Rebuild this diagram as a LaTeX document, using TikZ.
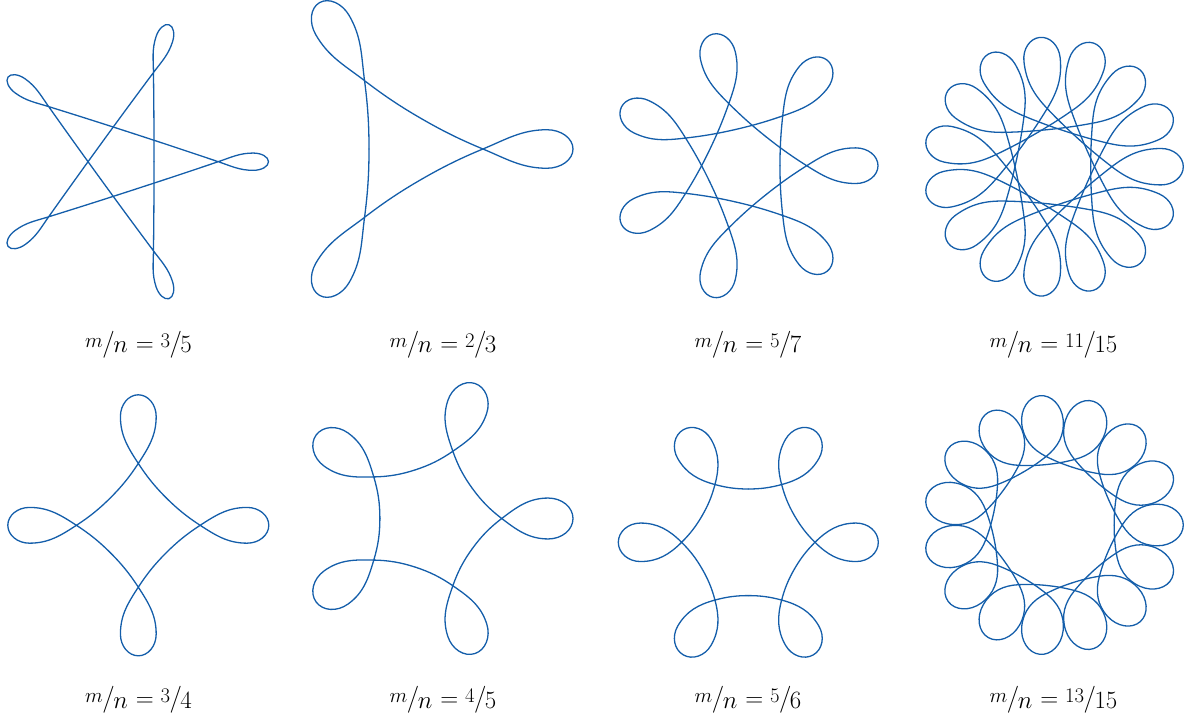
\documentclass[tikz,border=0pt]{standalone}
\usepackage{graphicx}
\definecolor{curveblue}{RGB}{20,94,170}
\newcommand\fr[2]{\raisebox{4pt}{\fontsize{21}{24}\selectfont$#1$}\kern-0.5pt/\kern-1.5pt\raisebox{-1.5pt}{\fontsize{23}{26}\selectfont$#2$}}
\newcommand\lab[2]{\fontsize{27}{30}\selectfont\fr{m}{n}\hspace{0.3em}$=$\hspace{0.25em}\fr{#1}{#2}}
% #1 cx, #2 cy, #3 R, #4 n, #5 k, #6 r1, #7 X, #8 xw, #9 hw  (all radial values in units of R)
\newcommand\ros[9]{%
  \pgfmathsetmacro\tM{180*#5/#4}%
  \pgfmathsetmacro\Mx{#6*cos(\tM)}%
  \pgfmathsetmacro\My{#6*sin(\tM)}%
  \pgfmathsetmacro\ca{atan2(-\My,#7-\Mx)}%
  \pgfmathsetmacro\aS{\tM-90}%
  \pgfmathsetmacro\dl{2*\ca-\aS}%
  \pgfmathsetmacro\aA{\dl+180}%
  \pgfmathsetmacro\aB{-\dl}%
  \pgfmathsetmacro\aC{180-\dl}%
  \pgfmathsetmacro\aE{90-\tM}%
  \pgfmathsetmacro\nT{-\tM}%
  \pgfmathsetmacro\nh{-#9}%
  \pgfmathsetmacro\lA{0.36*veclen(#7-\Mx,\My)}%
  \pgfmathsetmacro\lB{0.38*veclen(#8-#7,#9)}%
  \pgfmathsetmacro\lC{0.552*(1-#8)}%
  \pgfmathsetmacro\lD{0.552*#9}%
  \begin{scope}[shift={(#1,#2)},scale=#3]
    \foreach \j in {1,...,#4}{%
      \draw[curve,rotate=360*\j/#4] (\tM:#6)
        .. controls +(\aS:\lA) and +(\aA:\lA) .. (#7,0)
        .. controls +(\dl:\lB) and +(180:\lB) .. (#8,\nh)
        .. controls +(0:\lC) and +(270:\lD) .. (1,0)
        .. controls +(90:\lD) and +(0:\lC) .. (#8,#9)
        .. controls +(180:\lB) and +(\aB:\lB) .. (#7,0)
        .. controls +(\aC:\lA) and +(\aE:\lA) .. (\nT:#6);
    }
  \end{scope}}
\begin{document}
\begin{tikzpicture}[x=1pt,y=-1pt,
  curve/.style={draw=curveblue,line width=1.3pt,line cap=round,line join=round},
  lbl/.style={anchor=base,inner sep=0pt}]
\useasboundingbox (0,0) rectangle (1192,722);
% row 1
\ros{124.5}{161.7}{144}{5}{2}{0.205}{0.651}{0.894}{0.060}
\ros{404}{149}{169}{3}{1}{0.207}{0.467}{0.846}{0.114}
\ros{743}{165.7}{135}{7}{2}{0.274}{0.472}{0.835}{0.132}
\ros{1053.3}{166.7}{130}{15}{4}{0.288}{0.45}{0.83}{0.14}
% row 2
\ros{138.3}{525.3}{130.5}{4}{1}{0.30}{0.474}{0.834}{0.137}
\ros{431}{518.5}{142}{5}{1}{0.36}{0.498}{0.826}{0.144}
\ros{748.3}{542.3}{130}{6}{1}{0.41}{0.513}{0.83}{0.148}
\ros{1053.3}{525}{130}{15}{2}{0.468}{0.53}{0.80}{0.16}
% labels
\node[lbl] (l1) at (138.5,351.5) {\lab{3}{5}};
\node[lbl] (l2) at (443,351.5) {\lab{2}{3}};
\node[lbl] (l3) at (748,351.5) {\lab{5}{7}};
\node[lbl] (l4) at (1053.5,351.5) {\lab{11}{15}};
\node[lbl] (l5) at (138.5,706.5) {\lab{3}{4}};
\node[lbl] (l6) at (443,706.5) {\lab{4}{5}};
\node[lbl] (l7) at (748,706.5) {\lab{5}{6}};
\node[lbl] (l8) at (1053.5,706.5) {\lab{13}{15}};
\end{tikzpicture}
\end{document}
